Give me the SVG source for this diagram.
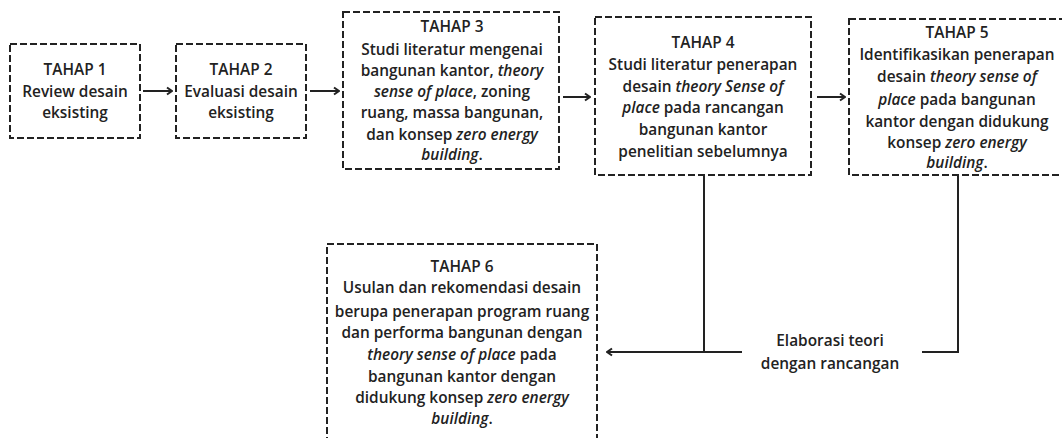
<svg xmlns="http://www.w3.org/2000/svg" width="1062" height="438" viewBox="0 0 1062 438">
<defs>
<style>
.box{fill:#fff;stroke:#222;stroke-width:2;stroke-dasharray:7 3}
.t{font-family:"Open Sans","Noto Sans",sans-serif;font-size:15.4px;font-weight:600;fill:#222;text-anchor:middle}
.i{font-style:italic}
.c{fill:none;stroke:#222;stroke-width:2}
</style>
<marker id="ah" viewBox="0 0 10 10" refX="9" refY="5" markerWidth="10" markerHeight="10" markerUnits="userSpaceOnUse" orient="auto">
<polyline points="4,1.5 9,5 4,8.5" fill="none" stroke="#222" stroke-width="2"/>
</marker>
</defs>
<rect width="1062" height="438" fill="#fff"/>
<g id="connectors">
<line class="c" x1="143" y1="91" x2="172" y2="91" marker-end="url(#ah)"/>
<line class="c" x1="310" y1="91" x2="339" y2="91" marker-end="url(#ah)"/>
<line class="c" x1="563" y1="97" x2="590" y2="97" marker-end="url(#ah)"/>
<line class="c" x1="817" y1="97" x2="845" y2="97" marker-end="url(#ah)"/>
<polyline class="c" points="958,175 958,352 922,352"/>
<line class="c" x1="704" y1="175" x2="704" y2="352"/>
<line class="c" x1="742" y1="352" x2="607" y2="352" marker-end="url(#ah)"/>
<text class="t" x="830" y="346">Elaborasi teori</text>
<text class="t" x="830" y="369">dengan rancangan</text>
</g>
<g id="tahap1">
<rect class="box" x="10" y="44" width="130" height="94"/>
<text class="t" x="75" y="75">TAHAP 1</text>
<text class="t" x="75" y="97">Review desain</text>
<text class="t" x="75" y="118">eksisting</text>
</g>
<g id="tahap2">
<rect class="box" x="176" y="44" width="130" height="94"/>
<text class="t" x="241" y="75">TAHAP 2</text>
<text class="t" x="241" y="97">Evaluasi desain</text>
<text class="t" x="241" y="118">eksisting</text>
</g>
<g id="tahap3">
<rect class="box" x="343" y="12" width="216" height="157"/>
<text class="t" x="452" y="32">TAHAP 3</text>
<text class="t" x="452" y="55">Studi literatur mengenai</text>
<text class="t" x="452" y="76">bangunan kantor, <tspan class="i">theory</tspan></text>
<text class="t" x="452" y="97"><tspan class="i">sense of place</tspan>, zoning</text>
<text class="t" x="452" y="118">ruang, massa bangunan,</text>
<text class="t" x="452" y="140">dan konsep <tspan class="i">zero energy</tspan></text>
<text class="t" x="452" y="160"><tspan class="i">building</tspan>.</text>
</g>
<g id="tahap4">
<rect class="box" x="595" y="17" width="216" height="158"/>
<text class="t" x="703" y="48">TAHAP 4</text>
<text class="t" x="703" y="70">Studi literatur penerapan</text>
<text class="t" x="703" y="92">desain <tspan class="i">theory Sense of</tspan></text>
<text class="t" x="703" y="113"><tspan class="i">place</tspan> pada rancangan</text>
<text class="t" x="703" y="135">bangunan kantor</text>
<text class="t" x="703" y="157">penelitian sebelumnya</text>
</g>
<g id="tahap5">
<rect class="box" x="849" y="19" width="222" height="156"/>
<text class="t" x="957" y="38">TAHAP 5</text>
<text class="t" x="957" y="60">Identifikasikan penerapan</text>
<text class="t" x="957" y="82">desain <tspan class="i">theory sense of</tspan></text>
<text class="t" x="957" y="105"><tspan class="i">place</tspan> pada bangunan</text>
<text class="t" x="957" y="127">kantor dengan didukung</text>
<text class="t" x="957" y="148">konsep <tspan class="i">zero energy</tspan></text>
<text class="t" x="957" y="168"><tspan class="i">building</tspan>.</text>
</g>
<g id="tahap6">
<rect class="box" x="327" y="244" width="270" height="210"/>
<text class="t" x="462" y="272">TAHAP 6</text>
<text class="t" x="462" y="293">Usulan dan rekomendasi desain</text>
<text class="t" x="462" y="317">berupa penerapan program ruang</text>
<text class="t" x="462" y="338">dan performa bangunan dengan</text>
<text class="t" x="462" y="360"><tspan class="i">theory sense of place</tspan> pada</text>
<text class="t" x="462" y="382">bangunan kantor dengan</text>
<text class="t" x="462" y="403">didukung konsep <tspan class="i">zero energy</tspan></text>
<text class="t" x="462" y="424"><tspan class="i">building</tspan>.</text>
</g>
</svg>
